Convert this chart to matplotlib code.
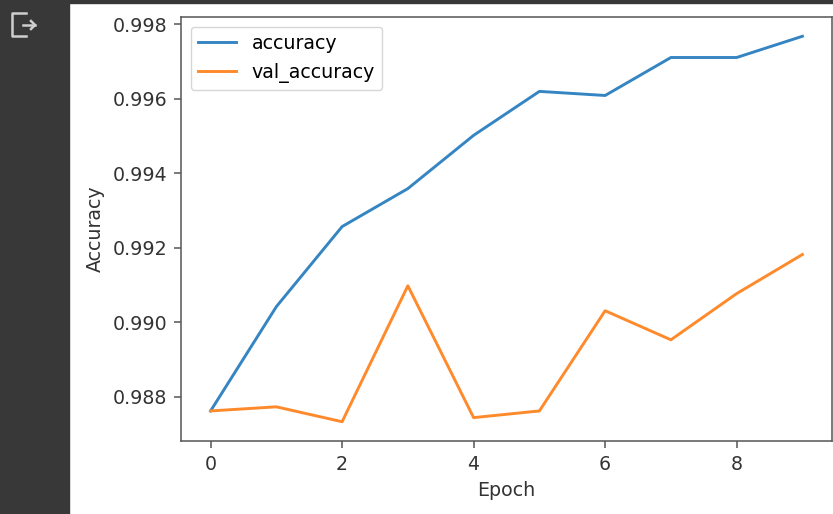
import numpy as np
from matplotlib import pyplot as plt
from matplotlib.lines import Line2D
from matplotlib.patches import Rectangle

epochs = [0, 1, 2, 3, 4, 5, 6, 7, 8, 9]
accuracy = [0.98762, 0.99042, 0.99257, 0.99359, 0.99502, 0.99620, 0.99609, 0.99711, 0.99711, 0.99768]
val_accuracy = [0.98762, 0.98773, 0.98733, 0.99098, 0.98744, 0.98762, 0.99031, 0.98953, 0.99077, 0.99182]

plt.rcParams['font.size'] = 13.7
plt.rcParams['axes.linewidth'] = 1.1
plt.rcParams['axes.labelpad'] = 5.6
plt.rcParams['xtick.major.size'] = 4.9
plt.rcParams['ytick.major.size'] = 4.9
plt.rcParams['xtick.major.width'] = 1.1
plt.rcParams['ytick.major.width'] = 1.1
plt.rcParams['xtick.major.pad'] = 4.9
plt.rcParams['ytick.major.pad'] = 4.9

fig = plt.figure(figsize=(8.33, 5.14), dpi=100)

# notebook output gutter on the left and thin bar on top
fig.patches.append(Rectangle((0, 0), 69 / 833, 1, transform=fig.transFigure,
                             color='#383838', zorder=0))
fig.patches.append(Rectangle((0, 1 - 3 / 514), 1, 3 / 514, transform=fig.transFigure,
                             color='#383838', zorder=0))

# output icon
ic = '#cfcfcf'
px = lambda x: x / 833
py = lambda y: 1 - y / 514
for xs, ys in [([26, 12, 12, 26], [13, 13, 36, 36]),
               ([23, 35], [25, 25]),
               ([31, 35, 31], [21, 25, 29])]:
    fig.lines.append(Line2D([px(v) for v in xs], [py(v) for v in ys],
                            transform=fig.transFigure, color=ic, lw=1.8))

ax = fig.add_axes([181 / 833, 1 - 441 / 514, 651 / 833, 424 / 514])
ax.plot(epochs, accuracy, label='accuracy', lw=2.1, color='#3585c2')
ax.plot(epochs, val_accuracy, label='val_accuracy', lw=2.1, color='#ff8a2c')

for s in ax.spines.values():
    s.set_color('#555555')
ax.tick_params(colors='#555555', labelcolor='#333333')
ax.set_xlabel('Epoch', color='#333333')
ax.set_ylabel('Accuracy', color='#333333')
ax.legend(loc='upper left')

plt.savefig('out.png')
